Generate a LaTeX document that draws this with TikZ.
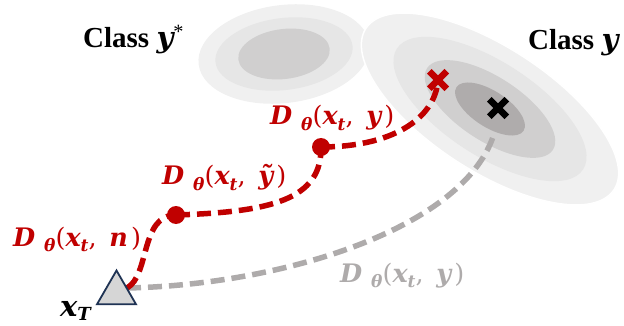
\documentclass[tikz,border=0pt]{standalone}
\usepackage{fontspec}
\setmainfont{Liberation Serif}
\newfontfamily\mfont{DejaVu Serif}
\usetikzlibrary{shapes.geometric,shapes.misc}
\definecolor{dred}{HTML}{C00000}
\definecolor{lgray}{HTML}{AEABAB}
\definecolor{navy}{HTML}{1F3354}
\definecolor{trifill}{HTML}{D6D6D6}
\definecolor{gA}{HTML}{F0F0F0}
\definecolor{gB}{HTML}{E6E6E6}
\definecolor{gC}{HTML}{D0CFCF}
\definecolor{gD}{HTML}{AFACAC}
\pgfdeclarelayer{bg}\pgfdeclarelayer{mid}\pgfsetlayers{bg,mid,main}
\newcommand\bi[1]{{\mfont\bfseries\itshape #1}}
\newcommand\Dlab[1]{\bi{D}\hspace{0.35em}\raisebox{-0.2em}{\fontsize{17}{17}\selectfont\bi{θ}}{\mfont(}\bi{x}\raisebox{-0.22em}{\fontsize{17}{17}\selectfont\bi{t}}{\mfont,}\hspace{0.5em}\bi{#1}\hspace{0.12em}{\mfont)}}
\tikzset{
  lab/.style={anchor=base west, inner sep=0pt, font=\fontsize{25.5}{25.5}\selectfont},
  cls/.style={anchor=base west, inner sep=0pt, font=\fontsize{29}{29}\selectfont\bfseries},
  dot/.style={circle, fill=dred, minimum size=18pt, inner sep=0pt},
  xmark/.style={cross out, draw=#1, line width=6.5pt, minimum size=11pt, inner sep=0pt},
  redpath/.style={draw=dred, line width=5.5pt, dash pattern=on 14pt off 7pt},
  graypath/.style={draw=lgray, line width=5.5pt, dash pattern=on 14pt off 7pt},
}
\begin{document}
\begin{tikzpicture}[x=1pt,y=-1pt]
\useasboundingbox (0,0) rectangle (624,326);
\begin{pgfonlayer}{bg}
  % class y* distribution
  \begin{scope}[rotate around={7:(284,54)}]
    \fill[gA] (284,54) ellipse [x radius=86, y radius=49];
    \fill[gB] (284,54) ellipse [x radius=69, y radius=36];
    \fill[gC] (284,54) ellipse [x radius=46, y radius=25];
  \end{scope}
  % class y distribution
  \begin{scope}[rotate around={-33:(490,109)}]
    \filldraw[fill=gA, draw=white, line width=1.5pt] (490,109) ellipse [x radius=148, y radius=62];
    \fill[gB] (490,109) ellipse [x radius=111, y radius=47];
    \fill[gC] (490,109) ellipse [x radius=75, y radius=32];
    \fill[gD] (490,109) ellipse [x radius=40, y radius=18];
  \end{scope}
\end{pgfonlayer}

\node[regular polygon, regular polygon sides=3, draw=navy, fill=trifill, line width=1.8pt, minimum size=45pt, inner sep=0pt] (xT) at (116.5,293) {};
\node[dot] (d1) at (176,215) {};
\node[dot] (d2) at (321,147) {};
\node[xmark=dred] (rc) at (438,80) {};
\node[xmark=black] (bc) at (498,108) {};
\coordinate (s) at (127,288);
\coordinate (ge) at (493,137);

\begin{pgfonlayer}{mid}
  \path[graypath] (s) .. controls (280,285) and (460,230) .. (ge);
  \path[redpath] (s) .. controls (150,275) and (140,215) .. (d1.center);
  \path[redpath] (d1.center) .. controls (270,212) and (322,200) .. (d2.center);
  \path[redpath] (d2.center) .. controls (390,147) and (435,120) .. (rc.center);
\end{pgfonlayer}

\node[cls] (cy1) at (83,48) {Class \bi{y}\textsuperscript{\normalfont *}};
\node[cls] (cy2) at (528,50) {Class \bi{y}};
\node[lab, text=dred] (l1) at (270,125) {\Dlab{y}};
\node[lab, text=dred] (l2) at (162,185) {\Dlab{ỹ}};
\node[lab, text=dred] (l3) at (13,246) {\Dlab{n}};
\node[lab, text=lgray] (l4) at (340,282) {\Dlab{y}};
\node[anchor=base west, inner sep=0pt, font=\fontsize{29}{29}\selectfont] (xl) at (60,316) {\bi{x}\raisebox{-0.17em}{\fontsize{18}{18}\selectfont\bi{T}}};
\end{tikzpicture}
\end{document}
